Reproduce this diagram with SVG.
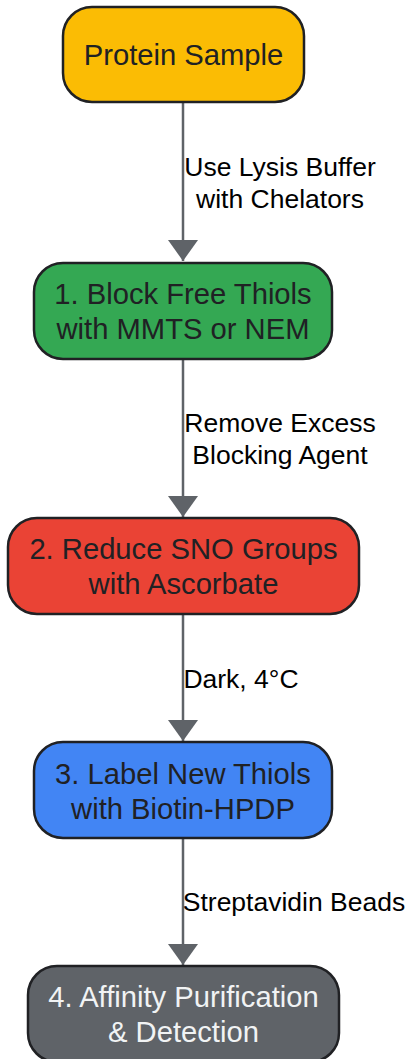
<svg xmlns="http://www.w3.org/2000/svg" width="407" height="1059" viewBox="0 0 407 1059">
<defs>
<style>
.node rect{stroke:#202124;stroke-width:2.5}
.ntext{font-family:"Liberation Sans",Arial,sans-serif;font-size:29.2px;fill:#202124;text-anchor:middle}
.elabel{font-family:"Liberation Sans",Arial,sans-serif;font-size:26.5px;fill:#000000;text-anchor:middle}
.edge{stroke:#5F6368;stroke-width:2.5;fill:none}
</style>
<marker id="arrow" viewBox="0 0 21 30" refX="21" refY="15" markerWidth="21" markerHeight="30" markerUnits="userSpaceOnUse" orient="auto">
<path d="M0 0 L21 15 L0 30 Z" fill="#5F6368"/>
</marker>
</defs>
<rect width="407" height="1059" fill="#ffffff"/>
<g id="connectors">
<path class="edge" d="M183 103 V261" marker-end="url(#arrow)"/>
<path class="edge" d="M183 359 V517" marker-end="url(#arrow)"/>
<path class="edge" d="M183 615 V741" marker-end="url(#arrow)"/>
<path class="edge" d="M183 839 V965" marker-end="url(#arrow)"/>
<text class="elabel" x="280" y="176">Use Lysis Buffer</text>
<text class="elabel" x="280" y="207.5">with Chelators</text>
<text class="elabel" x="280" y="432">Remove Excess</text>
<text class="elabel" x="280" y="463.5">Blocking Agent</text>
<text class="elabel" x="241" y="687.5">Dark, 4°C</text>
<text class="elabel" x="294" y="911">Streptavidin Beads</text>
</g>
<g id="node-sample" class="node">
<rect x="63" y="7" width="241" height="95" rx="29" fill="#FBBC04"/>
<text class="ntext" x="183.5" y="65">Protein Sample</text>
</g>
<g id="node-block" class="node">
<rect x="34" y="263" width="298" height="96" rx="29" fill="#34A853"/>
<text class="ntext" x="183" y="303.5">1. Block Free Thiols</text>
<text class="ntext" x="183" y="338.5">with MMTS or NEM</text>
</g>
<g id="node-reduce" class="node">
<rect x="8" y="518" width="351" height="96" rx="29" fill="#EA4335"/>
<text class="ntext" x="183.5" y="558.5">2. Reduce SNO Groups</text>
<text class="ntext" x="183.5" y="594">with Ascorbate</text>
</g>
<g id="node-label" class="node">
<rect x="34" y="742" width="298" height="96" rx="29" fill="#4285F4"/>
<text class="ntext" x="183" y="783.5">3. Label New Thiols</text>
<text class="ntext" x="183" y="818.5">with Biotin-HPDP</text>
</g>
<g id="node-purify" class="node">
<rect x="28" y="966" width="311" height="96" rx="29" fill="#5F6368"/>
<text class="ntext" x="183.5" y="1006.5" style="fill:#F1F3F4">4. Affinity Purification</text>
<text class="ntext" x="183.5" y="1042" style="fill:#F1F3F4">&amp; Detection</text>
</g>
</svg>
